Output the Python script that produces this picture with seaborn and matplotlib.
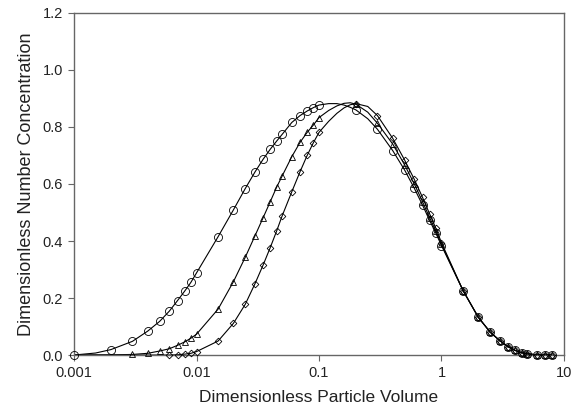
import numpy as np
import pandas as pd
import seaborn as sns
import matplotlib.pyplot as plt
from matplotlib.ticker import FixedLocator, FixedFormatter, NullLocator

# shared right-hand tail (all three series coincide beyond x = 1)
tail_x = [1.5, 2, 2.5, 3, 3.5, 4, 4.5, 5, 6, 7, 8]
tail_y = [0.226, 0.132, 0.080, 0.050, 0.029, 0.016, 0.008, 0.004, 0.001, 0.0, 0.0]

# circles
circle_x = [0.001, 0.002, 0.003, 0.004, 0.005, 0.006, 0.007, 0.008, 0.009, 0.01,
            0.015, 0.02, 0.025, 0.03, 0.035, 0.04, 0.045, 0.05, 0.06, 0.07, 0.08, 0.09, 0.1,
            0.2, 0.3, 0.4, 0.5, 0.6, 0.7, 0.8, 0.9, 1.0] + tail_x
circle_y = [0.0, 0.019, 0.048, 0.084, 0.118, 0.154, 0.191, 0.224, 0.255, 0.288,
            0.415, 0.509, 0.584, 0.642, 0.687, 0.722, 0.750, 0.774, 0.816, 0.840, 0.856, 0.868, 0.877,
            0.860, 0.792, 0.717, 0.649, 0.585, 0.526, 0.472, 0.427, 0.384] + tail_y

# triangles
tri_x = [0.003, 0.004, 0.005, 0.006, 0.007, 0.008, 0.009, 0.01,
         0.015, 0.02, 0.025, 0.03, 0.035, 0.04, 0.045, 0.05, 0.06, 0.07, 0.08, 0.09, 0.1,
         0.2, 0.3, 0.4, 0.5, 0.6, 0.7, 0.8, 0.9, 1.0] + tail_x
tri_y = [0.002, 0.006, 0.014, 0.022, 0.034, 0.046, 0.059, 0.073,
         0.161, 0.257, 0.343, 0.418, 0.482, 0.538, 0.588, 0.628, 0.696, 0.746, 0.781, 0.807, 0.833,
         0.880, 0.813, 0.740, 0.667, 0.600, 0.538, 0.482, 0.434, 0.388] + tail_y

# diamonds
dia_x = [0.006, 0.007, 0.008, 0.009, 0.01,
         0.015, 0.02, 0.025, 0.03, 0.035, 0.04, 0.045, 0.05, 0.06, 0.07, 0.08, 0.09, 0.1,
         0.2, 0.3, 0.4, 0.5, 0.6, 0.7, 0.8, 0.9, 1.0] + tail_x
dia_y = [0.0, 0.001, 0.003, 0.006, 0.012,
         0.049, 0.111, 0.178, 0.250, 0.316, 0.377, 0.434, 0.488, 0.573, 0.643, 0.700, 0.745, 0.781,
         0.882, 0.840, 0.760, 0.684, 0.616, 0.553, 0.495, 0.444, 0.394] + tail_y

# extra points
circle_curve_x = [0.0015, 0.12, 0.14, 0.16, 0.18, 0.25]
circle_curve_y = [0.007, 0.882, 0.882, 0.877, 0.869, 0.829]
tri_curve_x = [0.001, 0.002, 0.12, 0.14, 0.16, 0.18, 0.25]
tri_curve_y = [0.0, 0.0005, 0.858, 0.874, 0.883, 0.885, 0.852]
dia_curve_x = [0.001, 0.003, 0.12, 0.14, 0.16, 0.18, 0.25]
dia_curve_y = [0.0, 0.0, 0.820, 0.848, 0.867, 0.878, 0.872]

x_ticks = [0.001, 0.01, 0.1, 1, 10]
x_labels = ["0.001", "0.01", "0.1", "1", "10"]
y_ticks = [0.0, 0.2, 0.4, 0.6, 0.8, 1.0, 1.2]

sns.set_style("ticks")
plt.rcParams['font.family'] = ['Liberation Sans', 'DejaVu Sans']

fig = plt.figure(figsize=(5.72, 4.16), dpi=100)
ax = fig.add_axes([0.1294, 0.1466, 0.8566, 0.8222])
ax.set_xscale('log')

series = [
    (circle_x, circle_y, circle_curve_x, circle_curve_y, 'o', 5.8),
    (tri_x, tri_y, tri_curve_x, tri_curve_y, '^', 4.0),
    (dia_x, dia_y, dia_curve_x, dia_curve_y, 'D', 3.4),
]
for mx, my, cx, cy, mk, ms in series:
    curve = pd.DataFrame({'x': mx + cx, 'y': my + cy}).sort_values('x')
    sns.lineplot(data=curve, x='x', y='y', ax=ax, color='black', lw=0.8,
                 estimator=None, sort=True)
    pts = pd.DataFrame({'x': mx, 'y': my})
    sns.lineplot(data=pts, x='x', y='y', ax=ax, estimator=None, linestyle='',
                 marker=mk, markersize=ms, markerfacecolor='none',
                 markeredgecolor='black', markeredgewidth=0.6, color='black',
                 clip_on=False, zorder=5)

ax.set_xlim(0.001, 10)
ax.set_ylim(0, 1.2)
ax.xaxis.set_major_locator(FixedLocator(x_ticks))
ax.xaxis.set_major_formatter(FixedFormatter(x_labels))
ax.xaxis.set_minor_locator(NullLocator())
ax.set_yticks(y_ticks)
ax.set_yticklabels([f"{v:.1f}" for v in y_ticks])

for s in ax.spines.values():
    s.set_color('#666666')
    s.set_linewidth(1.0)
ax.tick_params(axis='both', direction='out', length=4, width=0.8,
               color='#666666', labelsize=10.5, labelcolor='#222222', pad=4)

ax.set_xlabel("Dimensionless Particle Volume", fontsize=12.5, color='#222222', labelpad=7)
ax.set_ylabel("Dimensionless Number Concentration", fontsize=13, color='#222222', labelpad=5)

fig.savefig("out.png", dpi=100)
